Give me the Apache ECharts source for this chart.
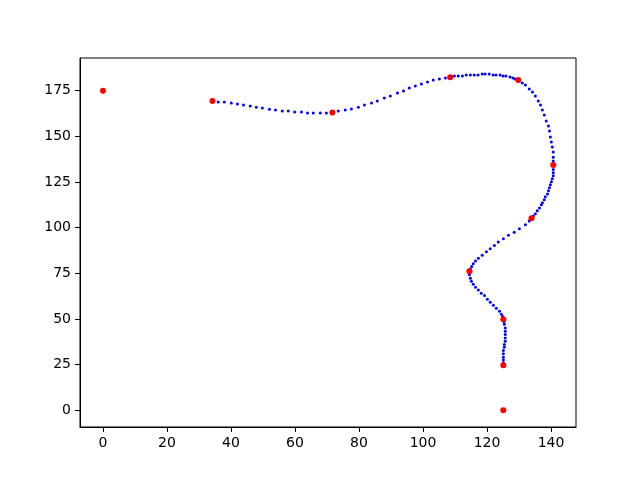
<!DOCTYPE html>
<html>
<head>
<meta charset="utf-8">
<script src="https://cdn.jsdelivr.net/npm/echarts@6/dist/echarts.min.js"></script>
<style>html,body{margin:0;padding:0;background:#fff;}#c{width:640px;height:480px;}</style>
</head>
<body>
<div id="c"></div>
<script>
// Control points (red)
const controlX = [0, 34.2, 71.7, 108.5, 129.8, 140.7, 133.9, 114.5, 125.1, 125.1, 125.1];
const controlY = [175, 169.4, 163.0, 182.3, 180.8, 134.3, 105.2, 76.2, 49.9, 24.6, 0];

// Curve points (blue)
const curveX = [
  34.2, 36.0, 37.9, 40.1, 42.0, 43.9, 46.0, 47.9, 49.8, 52.0, 53.9, 56.0, 57.9, 59.9, 62.0, 63.9, 65.7, 67.9, 69.8, 71.7,
  73.5, 75.7, 77.6, 79.8, 81.7, 83.9, 85.7, 87.9, 89.8, 92.0, 93.9, 95.7, 97.6, 99.5, 101.4, 103.2, 105.1, 107.0, 108.5,
  109.8, 111.0, 112.3, 113.5, 114.8, 116.0, 117.2, 118.5, 119.4, 120.7, 121.9, 122.8, 124.1, 125.0, 125.9, 127.2, 128.1, 128.8, 129.8,
  131.0, 132.0, 133.2, 134.2, 135.1, 136.0, 136.7, 137.3, 137.9, 138.5, 139.2, 139.5, 139.8, 140.1, 140.4, 140.7, 140.7, 140.7, 140.7,
  140.7, 140.7, 140.7, 140.4, 140.1, 139.8, 139.5, 139.2, 138.9, 138.2, 137.9, 137.3, 137.0, 136.4, 135.7, 135.1, 134.5, 133.9,
  133.2, 132.0, 130.1, 128.5, 126.7, 125.1, 123.5, 122.3, 121.0, 119.8, 118.5, 117.3, 116.4, 115.7, 115.2, 114.8, 114.5,
  114.5, 114.8, 115.1, 115.7, 116.4, 117.3, 118.2, 119.2, 120.1, 121.0, 122.0, 122.9, 123.9, 124.5, 124.9, 125.1,
  125.3, 125.4, 125.7, 125.7, 125.7, 125.7, 125.7, 125.4, 125.4, 125.1, 125.1, 125.1, 125.1, 125.1, 125.1
];
const curveY = [
  169.4, 168.8, 168.8, 168.2, 167.7, 167.1, 166.6, 166.0, 165.5, 164.9, 164.4, 163.9, 163.9, 163.3, 163.3, 162.8, 162.8, 162.8, 162.8, 163.0,
  163.9, 164.4, 165.0, 166.0, 167.1, 168.2, 169.3, 171.0, 172.1, 173.7, 174.8, 176.5, 177.6, 178.6, 179.7, 180.8, 181.4, 181.9, 182.3,
  183.0, 183.0, 183.0, 183.6, 183.6, 183.6, 183.6, 184.1, 184.1, 184.1, 183.6, 183.6, 183.6, 183.0, 183.0, 182.5, 181.9, 181.4, 180.8,
  179.2, 178.1, 175.9, 174.3, 172.1, 169.3, 167.1, 164.4, 161.7, 158.4, 155.6, 152.9, 149.6, 146.9, 144.1, 141.4, 138.6, 136.5, 134.3,
  131.9, 130.1, 128.4, 126.8, 125.1, 123.5, 121.8, 120.2, 118.5, 116.9, 115.3, 113.6, 112.5, 110.8, 109.2, 107.6, 106.4, 105.2,
  103.7, 101.6, 99.4, 97.5, 95.9, 93.9, 92.1, 90.2, 88.4, 86.8, 84.9, 83.3, 81.8, 80.2, 78.8, 77.4, 76.2,
  74.2, 72.3, 70.7, 69.0, 67.4, 65.8, 64.1, 62.8, 60.8, 59.2, 57.5, 55.9, 54.2, 52.6, 51.3, 49.9,
  48.5, 47.1, 45.1, 43.3, 41.5, 39.6, 37.8, 36.0, 34.5, 32.7, 30.9, 29.0, 27.6, 26.0, 24.6
];

const xTicks = [0, 20, 40, 60, 80, 100, 120, 140];
const yTicks = [0, 25, 50, 75, 100, 125, 150, 175];

const curveData = curveX.map((x, i) => [x, curveY[i]]);
const controlData = controlX.map((x, i) => [x, controlY[i]]);

const chart = echarts.init(document.getElementById('c'), null, {renderer: 'canvas'});
const font = 'DejaVu Sans';
chart.setOption({
  animation: false,
  backgroundColor: '#ffffff',
  grid: {left: 80, right: 64, top: 58, bottom: 53, show: true, borderColor: '#000', borderWidth: 1, backgroundColor: 'transparent'},
  xAxis: {
    type: 'value', min: -7.19, max: 147.8,
    splitLine: {show: false},
    axisLine: {show: true, onZero: false, lineStyle: {color: '#000', width: 1}},
    axisTick: {show: true, length: 5, customValues: xTicks, lineStyle: {color: '#000'}},
    axisLabel: {customValues: xTicks, color: '#000', fontFamily: font, fontSize: 14, margin: 9}
  },
  yAxis: {
    type: 'value', min: -9.15, max: 192.9,
    splitLine: {show: false},
    axisLine: {show: true, onZero: false, lineStyle: {color: '#000', width: 1}},
    axisTick: {show: true, length: 5, customValues: yTicks, lineStyle: {color: '#000'}},
    axisLabel: {customValues: yTicks, color: '#000', fontFamily: font, fontSize: 14, margin: 9}
  },
  series: [
    {type: 'scatter', data: curveData, symbol: 'circle', symbolSize: 3, itemStyle: {color: '#0000ff', opacity: 1}, z: 2},
    {type: 'scatter', data: controlData, symbol: 'circle', symbolSize: 6, itemStyle: {color: '#ff0000', opacity: 1}, z: 3}
  ]
});
</script>
</body>
</html>
